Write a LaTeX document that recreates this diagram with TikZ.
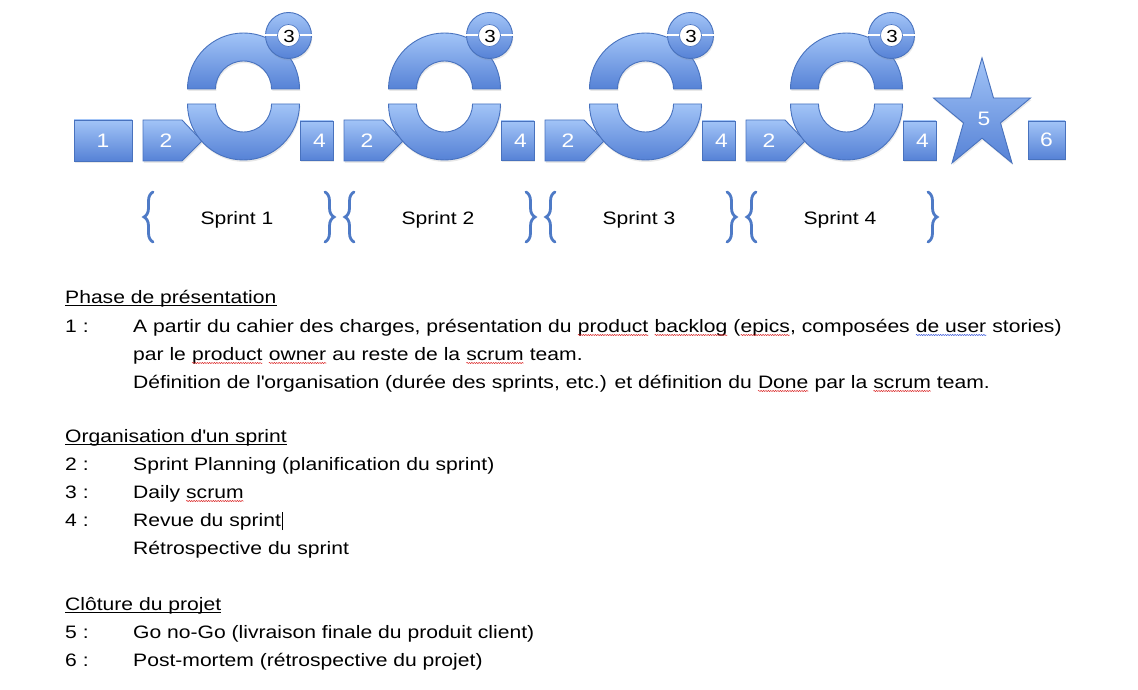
\documentclass[tikz,border=0pt]{standalone}
\usepackage{fontspec}
\setmainfont{Liberation Sans}[FakeStretch=1.172]
\usetikzlibrary{shadows,decorations.pathmorphing,decorations.pathreplacing}
\definecolor{btop}{RGB}{162,196,247}
\definecolor{bbot}{RGB}{86,130,214}
\definecolor{bline}{RGB}{72,114,190}
\definecolor{brcol}{RGB}{78,122,198}
\definecolor{wavered}{RGB}{220,40,40}
\definecolor{waveblue}{RGB}{60,90,220}
\newcommand\wv[2][wavered]{\tikz[baseline=(W.base)]{\node[anchor=base,inner sep=0pt,outer sep=0pt](W){#2};\draw[#1,line width=0.5pt,decorate,decoration={snake,amplitude=0.6pt,segment length=2.4pt}]([yshift=-3pt]W.base west)--([yshift=-3pt]W.base east);}}
\begin{document}
\begin{tikzpicture}[x=1pt,y=-1pt,
  blueshape/.style={draw=bline, line width=0.9pt, top color=btop, bottom color=bbot,
    drop shadow={shadow xshift=0.8pt, shadow yshift=-2pt, opacity=0.18}},
  numw/.style={text=white, font=\fontsize{19.5}{22}\selectfont},
  body/.style={anchor=base west, inner sep=0pt, font=\fontsize{18}{22}\selectfont},
  brc/.style={draw=brcol, line width=2.8pt, line cap=round, decorate, decoration={brace, amplitude=9pt}},
  sprintlbl/.style={anchor=base, font=\fontsize{18}{22}\selectfont},
  underl/.style={line width=0.8pt}]
\fill[white] (0,0) rectangle (1138,690);
\useasboundingbox (0,0) rectangle (1138,690);
\node[blueshape, minimum width=58pt, minimum height=41pt, inner sep=0pt, numw] (b1) at (103,140.5) {1};
\foreach \i in {0,...,3}{
\begin{scope}[xshift=201*\i]
 \path[blueshape] (143,120) -- (182,120) -- (202,141) -- (182,161) -- (143,161) -- cycle;
 \node[numw] (two\i) at (166,141) {2};
 \path[blueshape] (187.5,104) arc[start angle=180,end angle=0,radius=56] -- (271.5,104) arc[start angle=0,end angle=180,radius=28] -- cycle;
 \path[blueshape] (187.5,89) arc[start angle=180,end angle=360,radius=56] -- (271.5,89) arc[start angle=0,end angle=-180,radius=28] -- cycle;
 \path[blueshape] (288.5,35.5) circle[radius=23];
 \fill[white] (264,33.8) rectangle (313,35.8);
 \path[draw=bline, line width=0.6pt, fill=white] (288.5,35.5) circle[radius=11];
 \node[font=\fontsize{17.5}{22}\selectfont] (three\i) at (289,36) {3};
 \node[blueshape, minimum width=33pt, minimum height=39pt, inner sep=0pt, numw] (four\i) at (316.5,140.5) {\hspace*{6pt}4};
 \draw[brc] (153,242) -- (153,192);
 \draw[brc] (325,192) -- (325,242);
 \pgfmathtruncatemacro\n{\i+1}
 \node[sprintlbl] (sp\i) at (237,224) {Sprint \n};
\end{scope}}
\path[blueshape] (982,57.9) -- (993.5,98) -- (1030.5,98) -- (1000.5,122.9) -- (1012,163) -- (982,138.2) -- (952,163) -- (963.5,122.9) -- (933.5,98) -- (970.5,98) -- cycle;
\node[numw] (five) at (984,119) {5};
\node[blueshape, minimum width=37pt, minimum height=38pt, inner sep=0pt, numw] (six) at (1046.5,140) {6};
% text
\node[body] (h1) at (65,303) {Phase de présentation};
\draw[underl] ([yshift=-2.5pt]h1.base west) -- ([yshift=-2.5pt]h1.base east);
\node[body] (n1) at (65,332) {1 :};
\node[body] (t1a) at (133,332) {A partir du cahier des charges, présentation du \wv{product} \wv{backlog} (\wv{epics}, composées \wv[waveblue]{de user} stories)};
\node[body] (t1b) at (133,360) {par le \wv{product} \wv{owner} au reste de la \wv{scrum} team.};
\node[body] (t1c) at (133,388) {Définition de l\textquotesingle organisation (durée des sprints, etc.) et définition du \wv{Done} par la \wv{scrum} team.};
\node[body] (h2) at (65,442) {Organisation d\textquotesingle un sprint};
\draw[underl] ([yshift=-2.5pt]h2.base west) -- ([yshift=-2.5pt]h2.base east);
\node[body] (n2) at (65,470) {2 :};
\node[body] (t2) at (133,470) {Sprint Planning (planification du sprint)};
\node[body] (n3) at (65,498) {3 :};
\node[body] (t3) at (133,498) {Daily \wv{scrum}};
\node[body] (n4) at (65,526) {4 :};
\node[body] (t4) at (133,526) {Revue du sprint};
\draw[line width=0.6pt] ([xshift=1pt,yshift=-4pt]t4.base east) -- ([xshift=1pt,yshift=14pt]t4.base east);
\node[body] (t4b) at (133,554) {Rétrospective du sprint};
\node[body] (h3) at (65,610) {Clôture du projet};
\draw[underl] ([yshift=-2.5pt]h3.base west) -- ([yshift=-2.5pt]h3.base east);
\node[body] (n5) at (65,638) {5 :};
\node[body] (t5) at (133,638) {Go no-Go (livraison finale du produit client)};
\node[body] (n6) at (65,666) {6 :};
\node[body] (t6) at (133,666) {Post-mortem (rétrospective du projet)};
\end{tikzpicture}
\end{document}
